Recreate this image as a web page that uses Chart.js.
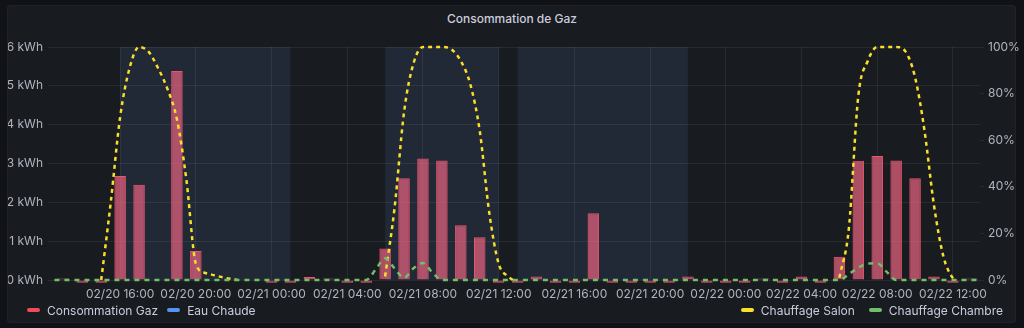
<!DOCTYPE html>
<html lang="fr">
<head>
<meta charset="utf-8">
<title>Consommation de Gaz</title>
<script src="https://cdn.jsdelivr.net/npm/chart.js@4/dist/chart.umd.min.js"></script>
<style>
    body { margin: 0; background: #111217; width: 1024px; height: 328px; overflow: hidden; font-family: Inter, sans-serif; }
    #panneau { position: absolute; left: 7px; top: 5px; width: 1009px; height: 318px; background: #181b1f; border: 1px solid #202226; border-radius: 3px; box-sizing: border-box; }
    #titre { position: absolute; left: 0; top: 11px; width: 1024px; text-align: center; color: #ccccdc; font-size: 12px; font-weight: 500; }
    #graphe { position: absolute; left: 0; top: 0; }
    .legende { position: absolute; top: 302px; height: 16px; display: flex; align-items: center; font-size: 12px; color: #ccccdc; }
    .item { display: flex; align-items: center; margin-right: 9px; }
    .trait { width: 13px; height: 4px; border-radius: 2px; margin-right: 7px; }
</style>
</head>
<body>
<div id="panneau"></div>
<div id="titre">Consommation de Gaz</div>
<canvas id="graphe" width="1024" height="328"></canvas>
<div class="legende" style="left: 27px;">
    <div class="item"><span class="trait" style="background: #F2495C;"></span>Consommation Gaz</div>
    <div class="item"><span class="trait" style="background: #5794F2;"></span>Eau Chaude</div>
</div>
<div class="legende" style="right: 21px;">
    <div class="item" style="margin-right: 14px;"><span class="trait" style="background: #FADE2A;"></span>Chauffage Salon</div>
    <div class="item" style="margin-right: 0;"><span class="trait" style="background: #73BF69;"></span>Chauffage Chambre</div>
</div>

<script>
"use strict";

/* heures comptées depuis le 02/20 00:00 */
const debutAxe = 12.4;
const finAxe = 61.43;
const heuresTicks = [16, 20, 24, 28, 32, 36, 40, 44, 48, 52, 56, 60];

/* consommation de gaz horaire en kWh, de 02/20 13:00 à 02/22 13:00 */
const consoGaz = [
    0.04, -0.07, -0.07, 2.68, 2.45, 0, 5.38, 0.75, 0, 0, 0,
    -0.07, -0.07, 0.08, 0.04, -0.07, -0.07, 0.81, 2.62, 3.13, 3.08, 1.41, 1.10, -0.07,
    -0.07, 0.09, -0.07, -0.07, 1.72, -0.07, -0.07, -0.07, -0.07, 0.09, -0.07,
    -0.07, -0.07, 0.04, -0.07, 0.09, -0.07, 0.60, 3.07, 3.19, 3.08, 2.62, 0.09, -0.07, 0.04
];
const premiereHeureGaz = 13;

/* eau chaude : pas de données sur la période */
const eauHeures = [];
const eauValeurs = [];

/* chauffage salon en %, null entre deux périodes de chauffe */
const salonHeures = [15, 15.5, 16, 16.5, 17, 17.5, 18, 18.5, 19, 19.5, 20, 20.5, 21, 21.5, 22, 22.2, 26,
    30, 30.5, 31, 31.5, 32, 33, 33.5, 34, 34.5, 35, 35.5, 36, 36.5, 36.75, 45,
    54, 54.5, 55, 55.5, 56, 57, 57.5, 58, 58.5, 59, 59.5, 60, 60.2];
const salonValeurs = [0, 33, 70, 91, 100, 98, 91, 82, 69, 43, 7, 3, 2, 1, 0.3, 0, null,
    1.5, 31, 72, 93, 100, 100, 99, 94, 84, 64, 29, 7, 1.5, 0, null,
    1, 22, 79, 94, 100, 100, 98, 87, 64, 32, 10, 0.8, 0];

/* chauffage chambre en % */
const chambreHeures = [12, 29, 29.5, 30, 30.5, 31, 31.5, 32, 32.5, 33, 54, 54.5, 55, 55.5, 56, 56.5, 57, 62];
const chambreValeurs = [0, 0, 4.5, 9.3, 5, 1, 5, 7.3, 3.2, 0, 0, 2.5, 5.3, 7, 7.2, 3.5, 0, 0];

/* périodes surlignées */
const zonesDebut = [16, 30, 37];
const zonesFin = [25, 36, 46];

/* formatage des heures en "MM/JJ HH:00" */
function formatHeure(h) {
    const jour = 20 + Math.floor(h / 24);
    const heure = h % 24;
    return '02/' + jour + ' ' + String(heure).padStart(2, '0') + ':00';
}

function enPoints(heures, valeurs) {
    return heures.map((h, i) => ({ x: h, y: valeurs[i] }));
}

/* fond bleuté des périodes, dessiné sous la grille */
const zonesPlugin = {
    id: 'zones',
    beforeDraw(chart) {
        const { ctx, chartArea, scales } = chart;
        ctx.save();
        ctx.fillStyle = 'rgb(33, 40, 54)';
        for (let i = 0; i < zonesDebut.length; i++) {
            const x1 = scales.x.getPixelForValue(zonesDebut[i]);
            const x2 = scales.x.getPixelForValue(zonesFin[i]);
            ctx.fillRect(x1, chartArea.top, x2 - x1, chartArea.bottom - chartArea.top);
        }
        ctx.restore();
    }
};

const couleurGrille = 'rgba(240, 250, 255, 0.07)';
const couleurTexte = 'rgba(204, 204, 220, 0.85)';
const clipLignes = { left: 0, right: 0, top: 3, bottom: 3 };

Chart.defaults.font.family = 'Inter, sans-serif';
Chart.defaults.font.size = 12;
Chart.defaults.color = couleurTexte;

const ctx = document.getElementById('graphe');

new Chart(ctx, {
    type: 'bar',
    data: {
        datasets: [
            {
                type: 'line',
                label: 'Chauffage Chambre',
                data: enPoints(chambreHeures, chambreValeurs),
                yAxisID: 'y1',
                borderColor: '#73BF69',
                borderWidth: 2.5,
                borderDash: [5, 5],
                pointRadius: 0,
                cubicInterpolationMode: 'monotone',
                fill: false,
                clip: clipLignes,
                order: 0
            },
            {
                type: 'line',
                label: 'Chauffage Salon',
                data: enPoints(salonHeures, salonValeurs),
                yAxisID: 'y1',
                borderColor: '#FADE2A',
                borderWidth: 2.5,
                borderDash: [4, 4],
                pointRadius: 0,
                cubicInterpolationMode: 'monotone',
                spanGaps: false,
                fill: false,
                clip: clipLignes,
                order: 1
            },
            {
                type: 'line',
                label: 'Eau Chaude',
                data: enPoints(eauHeures, eauValeurs),
                yAxisID: 'y',
                borderColor: '#5794F2',
                borderWidth: 1,
                pointRadius: 0,
                order: 2
            },
            {
                type: 'bar',
                label: 'Consommation Gaz',
                data: consoGaz.map((v, i) => ({ x: premiereHeureGaz + i, y: v })),
                yAxisID: 'y',
                backgroundColor: 'rgba(235, 100, 130, 0.7)',
                borderColor: '#E8556C',
                borderWidth: 1,
                categoryPercentage: 0.8,
                barPercentage: 0.76,
                clip: { left: 0, top: 0, right: 0, bottom: 5 },
                order: 3
            }
        ]
    },
    options: {
        responsive: false,
        animation: false,
        layout: {
            padding: { left: 8, right: 0, top: 47, bottom: 28 }
        },
        plugins: {
            legend: { display: false },
            tooltip: { enabled: false }
        },
        scales: {
            x: {
                type: 'linear',
                min: debutAxe,
                max: finAxe,
                offset: false,
                afterBuildTicks: (s) => { s.ticks = heuresTicks.map(v => ({ value: v })); },
                afterFit: (s) => { s.height = 20; },
                grid: { color: couleurGrille, drawTicks: false, offset: false },
                border: { display: false },
                ticks: {
                    padding: 7,
                    autoSkip: false,
                    maxRotation: 0,
                    callback: (v) => formatHeure(v)
                }
            },
            y: {
                position: 'left',
                min: 0,
                max: 6,
                afterFit: (s) => { s.width = 44; },
                grid: { color: couleurGrille, tickLength: 4 },
                border: { display: false },
                ticks: {
                    stepSize: 1,
                    padding: 5,
                    callback: (v) => v + ' kWh'
                }
            },
            y1: {
                position: 'right',
                min: 0,
                max: 100,
                afterFit: (s) => { s.width = 44; },
                grid: { color: couleurGrille, drawOnChartArea: false, tickLength: 4 },
                border: { display: false },
                ticks: {
                    stepSize: 20,
                    padding: 4,
                    callback: (v) => v + '%'
                }
            }
        }
    },
    plugins: [zonesPlugin]
});
</script>
</body>
</html>
